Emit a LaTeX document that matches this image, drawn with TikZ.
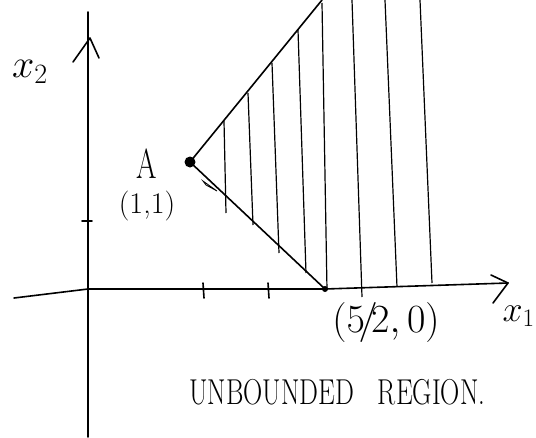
\RequirePackage{fix-cm}
\documentclass[tikz,border=0pt]{standalone}
\usetikzlibrary{positioning}
\begin{document}
\begin{tikzpicture}[x=1pt, y=-1pt,
    ax/.style={line width=1.6pt, line cap=round, line join=round},
    bd/.style={line width=1.6pt, line cap=round},
    hatch/.style={line width=1.2pt},
    pt/.style={circle, fill, inner sep=0pt, minimum size=11pt},
    ptsm/.style={circle, fill, inner sep=0pt, minimum size=6pt},
    lbl/.style={font=\fontsize{40}{42}\selectfont, inner sep=0pt}]
\useasboundingbox (0,0) rectangle (536,437);
% axes
\coordinate (ybot) at (88,437);
\coordinate (ytop) at (88,12);
\coordinate (xl) at (14,298);
\coordinate (O) at (88,289);
\coordinate (xr) at (508,283);
\draw[ax] (ybot) -- (ytop);
\draw[ax] (73,62) -- (90,38) -- (99,58);
\draw[ax] (xl) -- (O) -- (325,289) -- (xr);
\draw[ax] (491,275) -- (xr) -- (493,303);
% ticks
\foreach \tx in {203,268}
  \draw[bd] (\tx,283) -- (\tx+1,298);
\draw[bd] (82,221) -- (92,221);
% corner point and boundary
\node[pt] (A) at (190,162) {};
\node[ptsm] (B) at (325,289) {};
\coordinate (T) at (322,0);
\draw[bd] (A.center) -- (T);
\draw[bd] (A.center) -- (B.center);
\draw[line width=0.8pt] (203,181) -- (217,191) -- (206,185) -- cycle;
% hatching
\foreach \xa/\ya/\xb/\yb in {224/121/226/213, 248/93/253/225, 272/63/279/253,
    298/30/306/273, 322/3/327/290, 352/0/362/297, 385/0/397/287, 420/0/432/283}
  \draw[hatch] (\xa,\ya) -- (\xb,\yb);
% labels
\node[lbl] (x2) at (30,72) {$x_2$};
\node[lbl, font=\fontsize{36}{38}\selectfont, anchor=east] (x1) at (535,316) {$x_1$};
\node[lbl, font=\fontsize{42}{44}\selectfont, xscale=0.7, transform shape] (Alab) at (147,164) {A};
\node[lbl, font=\fontsize{30}{32}\selectfont] (Acoord) at (147,206) {(1,1)};
\node[lbl] (Blab) at (386,322) {$(5\!/\!2,0)$};
\node[lbl, font=\fontsize{36}{38}\selectfont, xscale=0.74, transform shape,
  anchor=west] (reg) at (189,392) {UNBOUNDED\hspace{0.9em}REGION.};
\end{tikzpicture}
\end{document}
